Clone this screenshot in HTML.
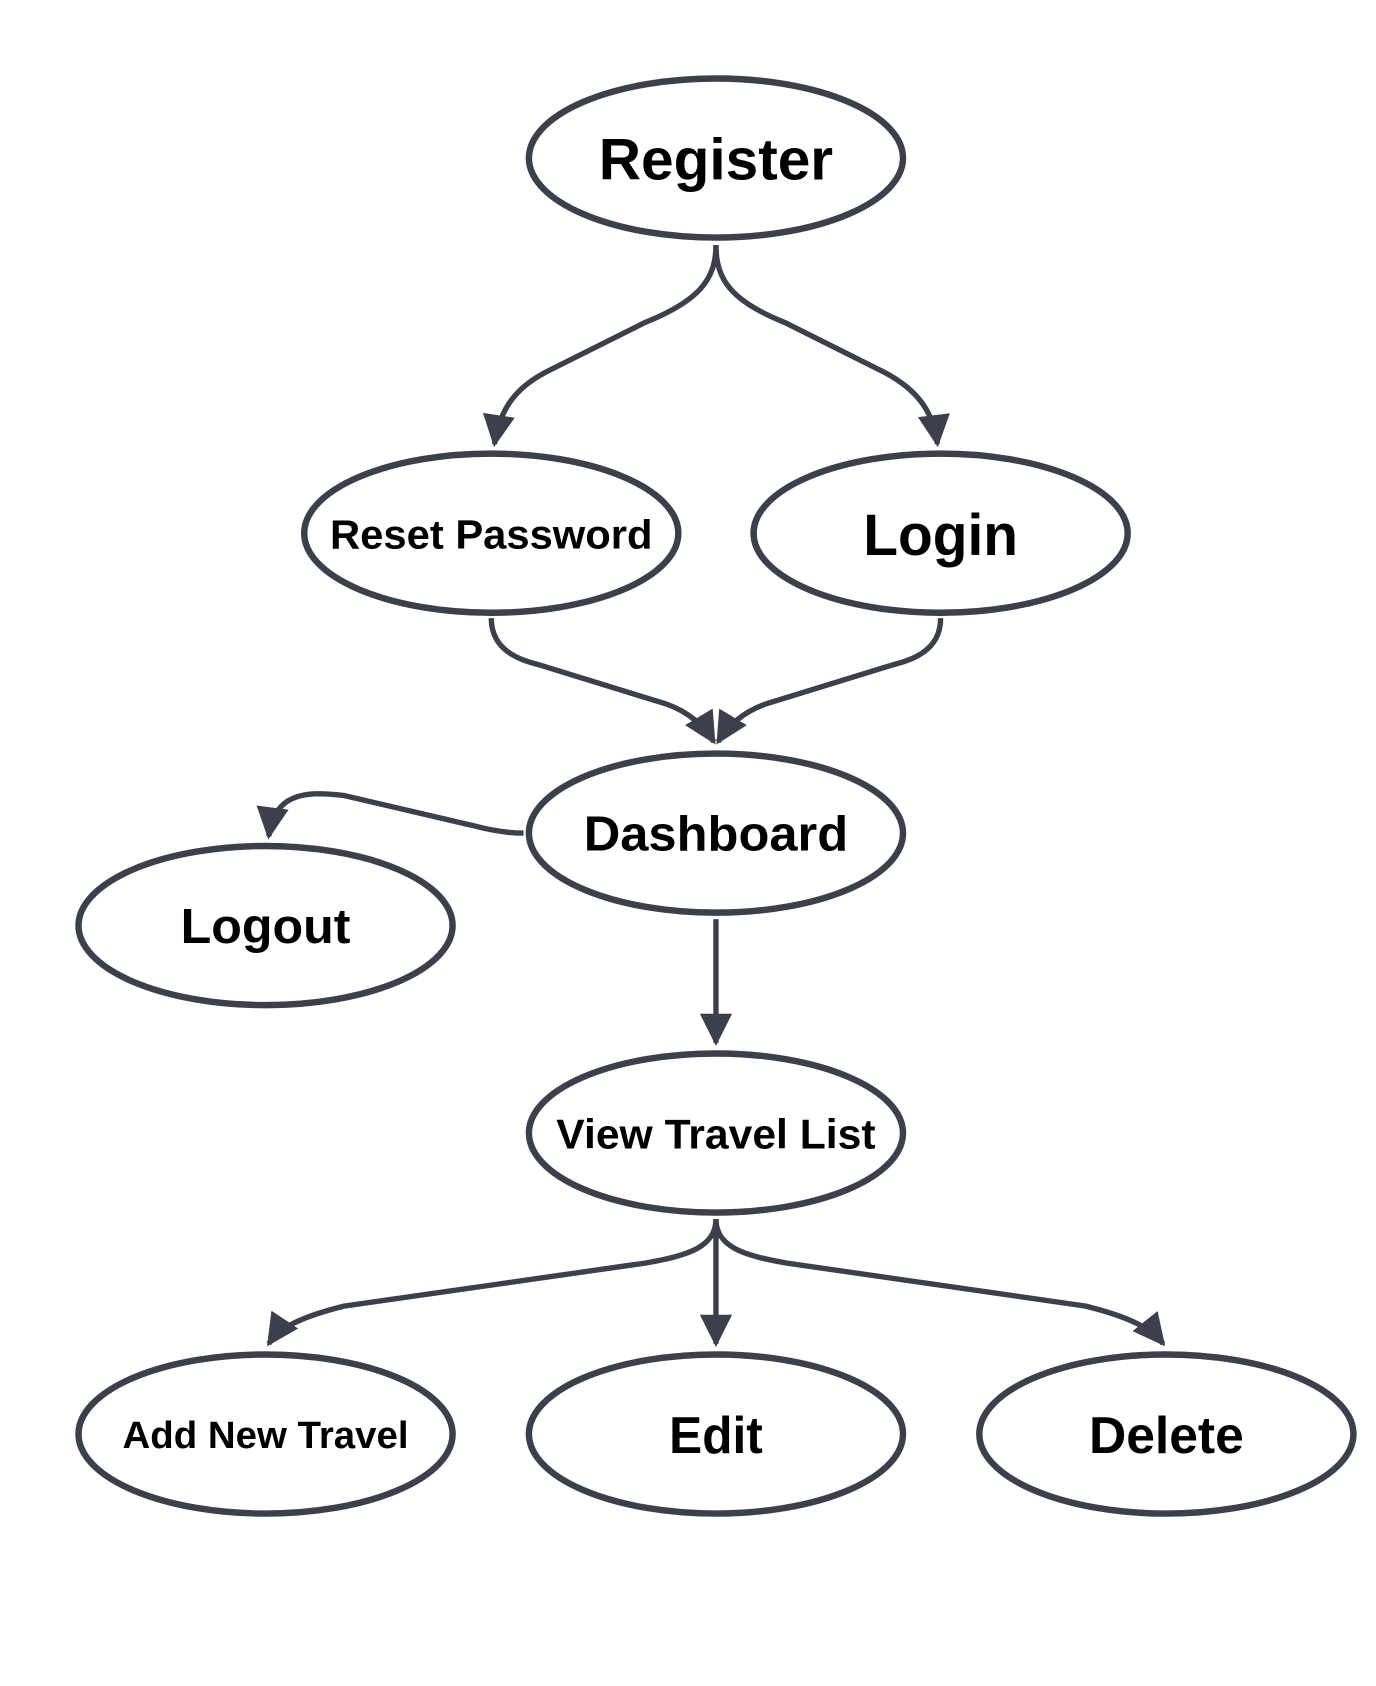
<!DOCTYPE html>
<html><head><meta charset="utf-8"><style>
html,body{margin:0;padding:0;background:#fff;}
svg{display:block}
text{font-family:"Liberation Sans",sans-serif;font-weight:bold;fill:#000;text-anchor:middle;dominant-baseline:central}
</style></head><body>
<svg width="1376" height="1686" viewBox="0 0 1280 1568.4" xmlns="http://www.w3.org/2000/svg">
<defs>
<marker id="a" viewBox="0 0 10 10" refX="9" refY="5" markerWidth="6" markerHeight="6" orient="auto" markerUnits="strokeWidth">
<path d="M0,0 L10,5 L0,10 z" fill="#3b404b"/></marker>
</defs>
<g fill="none" stroke="#3b404b" stroke-width="5">
<path d="M666,228 C666,260 650,280 600,300 L510,345 C480,360 465,380 460,413" marker-end="url(#a)"/>
<path d="M666,228 C666,260 680,280 730,300 L820,345 C850,360 868,380 872,413" marker-end="url(#a)"/>
<path d="M457,575 C457,600 475,612 500,618 L620,655 C640,662 655,675 664,690" marker-end="url(#a)"/>
<path d="M875,575 C875,600 857,612 832,618 L712,655 C692,662 677,675 668,690" marker-end="url(#a)"/>
<path d="M487,775 C470,775 455,772 440,768 L320,740 C280,735 255,740 250,778" marker-end="url(#a)"/>
<path d="M666,855 L666,970" marker-end="url(#a)"/>
<path d="M666,1134 C666,1160 640,1168 600,1175 L320,1215 C280,1225 260,1235 250,1250" marker-end="url(#a)"/>
<path d="M666,1134 L666,1250" marker-end="url(#a)"/>
<path d="M666,1134 C666,1160 692,1168 732,1175 L1010,1215 C1050,1225 1070,1235 1082,1250" marker-end="url(#a)"/>
</g>
<g fill="#fff" stroke="#3b404b" stroke-width="6">
<ellipse cx="666" cy="147" rx="174" ry="74"/>
<ellipse cx="457" cy="496" rx="174" ry="74"/>
<ellipse cx="875" cy="496" rx="174" ry="74"/>
<ellipse cx="666" cy="775" rx="174" ry="74"/>
<ellipse cx="247" cy="861" rx="174" ry="74"/>
<ellipse cx="666" cy="1054" rx="174" ry="74"/>
<ellipse cx="247" cy="1334" rx="174" ry="74"/>
<ellipse cx="666" cy="1334" rx="174" ry="74"/>
<ellipse cx="1085" cy="1334" rx="174" ry="74"/>
</g>
<text x="666" y="149" font-size="54" textLength="218" lengthAdjust="spacingAndGlyphs">Register</text>
<text x="457" y="497" font-size="38" textLength="300" lengthAdjust="spacingAndGlyphs">Reset Password</text>
<text x="875" y="498" font-size="54" textLength="144" lengthAdjust="spacingAndGlyphs">Login</text>
<text x="666" y="776" font-size="46" textLength="246" lengthAdjust="spacingAndGlyphs">Dashboard</text>
<text x="247" y="862" font-size="46" textLength="158" lengthAdjust="spacingAndGlyphs">Logout</text>
<text x="666" y="1055" font-size="39" textLength="297" lengthAdjust="spacingAndGlyphs">View Travel List</text>
<text x="247" y="1335" font-size="35" textLength="266" lengthAdjust="spacingAndGlyphs">Add New Travel</text>
<text x="666" y="1335" font-size="48" textLength="87" lengthAdjust="spacingAndGlyphs">Edit</text>
<text x="1085" y="1335" font-size="48" textLength="144" lengthAdjust="spacingAndGlyphs">Delete</text>
</svg>
</body></html>
